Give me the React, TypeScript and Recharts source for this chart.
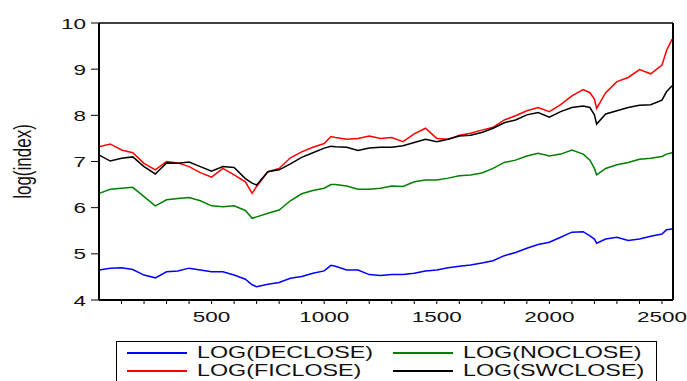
import React from 'react'
import { LineChart, Line, XAxis, YAxis, ReferenceLine } from 'recharts'

// observation index (trading days)
const obs = [
  1, 50, 100, 150, 200, 250, 300, 350, 400, 450, 500, 550, 600, 650, 680, 700, 750, 800,
  850, 900, 950, 1000, 1030, 1050, 1100, 1150, 1200, 1250, 1300, 1350, 1400, 1450, 1500,
  1550, 1600, 1650, 1700, 1750, 1800, 1850, 1900, 1950, 2000, 2050, 2100, 2150, 2180,
  2200, 2210, 2250, 2300, 2350, 2400, 2450, 2500, 2520, 2545,
]

const deClose = [
  4.65, 4.69, 4.7, 4.66, 4.54, 4.48, 4.61, 4.63, 4.69, 4.65, 4.61, 4.61, 4.54, 4.45, 4.33, 4.29, 4.34, 4.38,
  4.47, 4.51, 4.58, 4.63, 4.75, 4.73, 4.65, 4.65, 4.55, 4.53, 4.55, 4.55, 4.58, 4.63, 4.65,
  4.7, 4.73, 4.76, 4.8, 4.85, 4.96, 5.03, 5.12, 5.2, 5.25, 5.36, 5.47, 5.48, 5.39,
  5.32, 5.23, 5.32, 5.36, 5.29, 5.32, 5.38, 5.43, 5.52, 5.54,
]

const fiClose = [
  7.32, 7.38, 7.25, 7.19, 6.96, 6.82, 7.0, 6.97, 6.89, 6.76, 6.66, 6.85, 6.71, 6.56, 6.31, 6.46, 6.78, 6.85,
  7.08, 7.21, 7.31, 7.39, 7.54, 7.52, 7.48, 7.5, 7.55, 7.5, 7.52, 7.43, 7.6, 7.72, 7.5,
  7.48, 7.57, 7.61, 7.68, 7.74, 7.9, 7.99, 8.1, 8.17, 8.08, 8.23, 8.42, 8.56, 8.49,
  8.35, 8.15, 8.49, 8.73, 8.82, 8.99, 8.9, 9.09, 9.4, 9.65,
]

const noClose = [
  6.31, 6.4, 6.42, 6.44, 6.24, 6.04, 6.17, 6.2, 6.22, 6.15, 6.04, 6.02, 6.04, 5.94, 5.77, 5.8, 5.88, 5.95,
  6.15, 6.3, 6.37, 6.42, 6.5, 6.5, 6.47, 6.4, 6.4, 6.42, 6.47, 6.46, 6.56, 6.6, 6.6,
  6.64, 6.69, 6.71, 6.75, 6.85, 6.98, 7.03, 7.12, 7.18, 7.12, 7.16, 7.25, 7.16, 7.03,
  6.85, 6.71, 6.85, 6.93, 6.98, 7.05, 7.07, 7.11, 7.16, 7.19,
]

const swClose = [
  7.14, 7.01, 7.07, 7.1, 6.89, 6.73, 6.97, 6.96, 6.99, 6.89, 6.79, 6.89, 6.87, 6.63, 6.53, 6.49, 6.78, 6.82,
  6.95, 7.09, 7.19, 7.29, 7.33, 7.32, 7.31, 7.24, 7.29, 7.31, 7.31, 7.34, 7.41, 7.48, 7.43,
  7.48, 7.55, 7.57, 7.63, 7.72, 7.84, 7.9, 8.01, 8.06, 7.96, 8.08, 8.17, 8.2, 8.17,
  8.01, 7.81, 8.03, 8.1, 8.17, 8.22, 8.23, 8.33, 8.51, 8.64,
]

const xTicks = [100, 200, 300, 400, 500, 600, 700, 800, 900, 1000, 1100, 1200, 1300, 1400, 1500,
  1600, 1700, 1800, 1900, 2000, 2100, 2200, 2300, 2400, 2500]
const yTicks = [4, 5, 6, 7, 8, 9, 10]

const series = [
  { key: 'de', label: 'LOG(DECLOSE)', color: '#0000ff', values: deClose },
  { key: 'no', label: 'LOG(NOCLOSE)', color: '#008000', values: noClose },
  { key: 'fi', label: 'LOG(FICLOSE)', color: '#ff0000', values: fiClose },
  { key: 'sw', label: 'LOG(SWCLOSE)', color: '#000000', values: swClose },
]

const data = obs.map((t, i) => {
  const row: Record<string, number> = { t }
  series.forEach((s) => (row[s.key] = s.values[i]))
  return row
})

const font = '"Liberation Sans", Arial, sans-serif'

const XTick = (props: any) => {
  const { x, y, payload } = props
  if (payload.value % 500 !== 0) return null
  return (
    <text transform={`translate(${x},${y}) scale(1.5,1)`} textAnchor="middle" dy={16}
      fontSize={15} fontFamily={font} fill="#111">
      {payload.value}
    </text>
  )
}

const YTick = (props: any) => {
  const { x, y, payload } = props
  return (
    <text transform={`translate(${x - 3},${y}) scale(1.5,1)`} textAnchor="end" dy={5.5}
      fontSize={15} fontFamily={font} fill="#111">
      {payload.value}
    </text>
  )
}

const YLabel = (props: any) => {
  const vb = props.viewBox
  const cy = vb.y + vb.height / 2
  return (
    <text transform={`translate(31,${cy}) scale(1.4,1) rotate(-90)`} textAnchor="middle"
      fontSize={17} fontFamily={font} fill="#111">
      log(index)
    </text>
  )
}

export default function App() {
  return (
    <div style={{ position: 'absolute', left: 0, top: 0, width: 687, height: 381, background: '#fff', overflow: 'hidden' }}>
      <LineChart width={687} height={381} data={data}
        margin={{ top: 23, right: 14, bottom: 51, left: 0 }}>
        <XAxis dataKey="t" type="number" domain={[0, 2549]} ticks={xTicks} interval={0}
          tick={<XTick />} tickSize={4} tickMargin={2} height={30}
          axisLine={{ stroke: '#000', strokeWidth: 2 }} tickLine={{ stroke: '#000' }}
          allowDataOverflow />
        <YAxis type="number" domain={[4, 10]} ticks={yTicks} width={99} interval={0}
          tick={<YTick />} tickSize={8} tickMargin={2}
          axisLine={{ stroke: '#000', strokeWidth: 2 }} tickLine={{ stroke: '#000' }}
          label={{ content: <YLabel /> }} allowDataOverflow />
        <ReferenceLine y={10} stroke="#000" strokeWidth={1.5} />
        <ReferenceLine x={2549} stroke="#000" strokeWidth={2} />
        {series.map((s) => (
          <Line key={s.key} dataKey={s.key} type="linear" stroke={s.color} strokeWidth={1.5}
            dot={false} isAnimationActive={false} />
        ))}
      </LineChart>
      <div style={{ position: 'absolute', left: 116, top: 341, width: 539, height: 60,
        border: '1px solid #000', fontFamily: font }}>
        {series.map((s, i) => {
          const col = i % 2
          const row = Math.floor(i / 2)
          return (
            <div key={s.key} style={{ position: 'absolute', left: 10 + col * 266, top: 2 + row * 18,
              height: 18, display: 'flex', alignItems: 'center' }}>
              <div style={{ width: 60, height: 1.5, background: s.color }} />
              <span style={{ marginLeft: 10, fontSize: 17, lineHeight: '18px', color: '#111',
                display: 'inline-block', transform: 'scaleX(1.37)', transformOrigin: 'left center',
                whiteSpace: 'nowrap' }}>
                {s.label}
              </span>
            </div>
          )
        })}
      </div>
    </div>
  )
}
